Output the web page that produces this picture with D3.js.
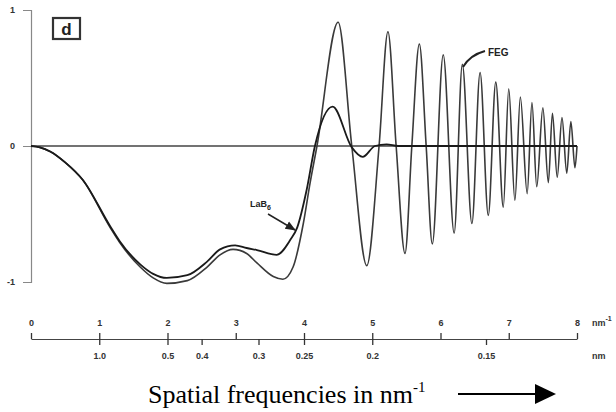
<!DOCTYPE html>
<html>
<head>
<meta charset="utf-8">
<script src="https://cdn.jsdelivr.net/npm/d3@7/dist/d3.min.js"></script>
<style>
  html, body { margin: 0; padding: 0; background: #fff; }
  svg { display: block; }
  .tick text { font-family: "Liberation Sans", Arial, sans-serif; font-weight: bold; font-size: 9px; fill: #333; }
</style>
</head>
<body>
<svg id="chart" width="616" height="412"></svg>
<script>
// ---- data ----
// spatial frequency (nm^-1) and CTF value for the FEG curve
const fegX = [0, 0.13, 0.28, 0.50, 0.76, 1.16, 1.30, 1.60, 1.79, 1.99, 2.29, 2.58, 2.77, 2.96, 3.16, 3.31, 3.55, 3.69, 3.84, 3.99, 4.09, 4.19,
  4.50, 4.70, 4.92, 5.10, 5.23, 5.35, 5.48, 5.58, 5.69, 5.79, 5.88, 6.04, 6.20, 6.32, 6.46, 6.58, 6.70, 6.81, 6.92, 7.00, 7.09, 7.17, 7.27,
  7.34, 7.41, 7.50, 7.58, 7.64, 7.71, 7.78, 7.85, 7.91, 7.97, 8.00];
const fegY = [0, -0.01, -0.04, -0.12, -0.25, -0.60, -0.71, -0.89, -0.97, -1.01, -0.99, -0.89, -0.80, -0.76, -0.79, -0.86, -0.96, -0.98, -0.89, -0.57, -0.27, 0,
  0.91, 0, -0.88, 0, 0.84, 0, -0.79, 0, 0.75, 0, -0.72, 0.67, -0.64, 0.60, -0.57, 0.54, -0.51, 0.47, -0.45, 0.42, -0.40, 0.36, -0.35,
  0.32, -0.30, 0.28, -0.27, 0.24, -0.23, 0.21, -0.20, 0.18, -0.16, 0];
// LaB6 curve
const labX = [0, 0.13, 0.28, 0.50, 0.76, 1.16, 1.30, 1.60, 1.79, 1.99, 2.29, 2.58, 2.77, 2.99, 3.16, 3.31, 3.60, 3.80, 3.90, 4.04, 4.16,
  4.42, 4.70, 4.86, 5.04, 5.21, 5.38, 8.00];
const labY = [0, -0.01, -0.04, -0.12, -0.25, -0.59, -0.70, -0.87, -0.94, -0.97, -0.95, -0.85, -0.76, -0.73, -0.75, -0.765, -0.80, -0.69, -0.60, -0.32, 0,
  0.29, -0.01, -0.08, 0, 0.012, 0, 0];
// axis ticks
const yTicks = [-1, 0, 1];
const freqTicks = [0, 1, 2, 3, 4, 5, 6, 7, 8];
const nmTicks = [1.0, 0.5, 0.4, 0.3, 0.25, 0.2, 0.15];
const nmLabels = ["1.0", "0.5", "0.4", "0.3", "0.25", "0.2", "0.15"];

// ---- drawing ----
const svg = d3.select("#chart");
svg.append("rect").attr("width", 616).attr("height", 412).attr("fill", "#fff");

const x = d3.scaleLinear().domain([0, 8]).range([31, 577]);
const y = d3.scaleLinear().domain([-1, 1]).range([282, 10]);

// left axis
const yAxis = svg.append("g").attr("transform", "translate(31,0)")
  .call(d3.axisLeft(y).tickValues(yTicks).tickSize(8).tickPadding(8).tickFormat(d => String(d)));
yAxis.select(".domain").attr("stroke", "#888").attr("stroke-width", 1.2);
yAxis.selectAll(".tick line").attr("stroke", "#888");
yAxis.selectAll(".tick text").attr("font-size", 9);

// zero reference line
svg.append("line").attr("x1", x(0)).attr("x2", x(8)).attr("y1", y(0)).attr("y2", y(0))
  .attr("stroke", "#444").attr("stroke-width", 1.3);

// curves
const line = d3.line().x(d => x(d[0])).y(d => y(d[1])).curve(d3.curveMonotoneX);
const fegData = fegX.map((v, i) => [v, fegY[i]]);
const labData = labX.map((v, i) => [v, labY[i]]);
svg.append("path").datum(fegData).attr("d", line).attr("fill", "none")
  .attr("stroke", "#3a3a3a").attr("stroke-width", 1.6);
svg.append("path").datum(labData).attr("d", line).attr("fill", "none")
  .attr("stroke", "#1a1a1a").attr("stroke-width", 1.8);

// panel label box
svg.append("rect").attr("x", 53).attr("y", 18).attr("width", 27).attr("height", 21)
  .attr("fill", "none").attr("stroke", "#333").attr("stroke-width", 2.2);
svg.append("text").attr("x", 66.5).attr("y", 34.5).attr("text-anchor", "middle")
  .attr("font-family", "Liberation Sans, Arial, sans-serif").attr("font-weight", "bold").attr("font-size", 17).attr("fill", "#222").text("d");

// curve labels
svg.append("text").attr("x", 488).attr("y", 56)
  .attr("font-family", "Liberation Sans, Arial, sans-serif").attr("font-weight", "bold").attr("font-size", 10).attr("fill", "#222").text("FEG");
svg.append("path").attr("d", "M485,51 Q470,55 463,67").attr("fill", "none").attr("stroke", "#222").attr("stroke-width", 2);

const lab = svg.append("text").attr("x", 250).attr("y", 207)
  .attr("font-family", "Liberation Sans, Arial, sans-serif").attr("font-weight", "bold").attr("font-size", 9).attr("fill", "#222");
lab.append("tspan").text("LaB");
lab.append("tspan").attr("font-size", 7).attr("dy", 3).text("6");
svg.append("defs").append("marker").attr("id", "ah").attr("viewBox", "0 0 10 10").attr("refX", 9).attr("refY", 5)
  .attr("markerWidth", 7).attr("markerHeight", 7).attr("orient", "auto")
  .append("path").attr("d", "M0,1 L10,5 L0,9 Z").attr("fill", "#222");
svg.append("line").attr("x1", 268).attr("y1", 214).attr("x2", 295).attr("y2", 230)
  .attr("stroke", "#222").attr("stroke-width", 1.5).attr("marker-end", "url(#ah)");

// bottom axes
const axisY = 339;
const topAx = svg.append("g").attr("transform", `translate(0,${axisY})`)
  .call(d3.axisTop(x).tickValues(freqTicks).tickSize(6).tickSizeOuter(0).tickPadding(7).tickFormat(d => String(d)));
topAx.select(".domain").attr("stroke", "#444").attr("stroke-width", 1.2);
topAx.selectAll(".tick line").attr("stroke", "#333").attr("stroke-width", 1.3);

const botAx = svg.append("g").attr("transform", `translate(0,${axisY})`)
  .call(d3.axisBottom(x).tickValues(nmTicks.map(d => 1 / d)).tickSize(6).tickSizeOuter(0).tickPadding(8)
    .tickFormat((d, i) => nmLabels[i]));
botAx.select(".domain").remove();
botAx.selectAll(".tick line").attr("stroke", "#333").attr("stroke-width", 1.3);

const unitTop = svg.append("text").attr("x", 592).attr("y", 326)
  .attr("font-family", "Liberation Sans, Arial, sans-serif").attr("font-weight", "bold").attr("font-size", 9).attr("fill", "#333");
unitTop.append("tspan").text("nm");
unitTop.append("tspan").attr("font-size", 7).attr("dy", -5).text("-1");
svg.append("text").attr("x", 592).attr("y", 359)
  .attr("font-family", "Liberation Sans, Arial, sans-serif").attr("font-weight", "bold").attr("font-size", 9).attr("fill", "#333").text("nm");

// caption with arrow
const cap = svg.append("text").attr("x", 148).attr("y", 403)
  .attr("font-family", "Liberation Serif, Times New Roman, serif").attr("font-size", 26).attr("fill", "#000");
cap.append("tspan").text("Spatial frequencies in nm");
cap.append("tspan").attr("font-size", 15).attr("dy", -11).text("-1");
svg.append("line").attr("x1", 458).attr("x2", 537).attr("y1", 394).attr("y2", 394).attr("stroke", "#000").attr("stroke-width", 2);
svg.append("path").attr("d", "M535,384 L556,394 L535,404 Z").attr("fill", "#000");
</script>
</body>
</html>
